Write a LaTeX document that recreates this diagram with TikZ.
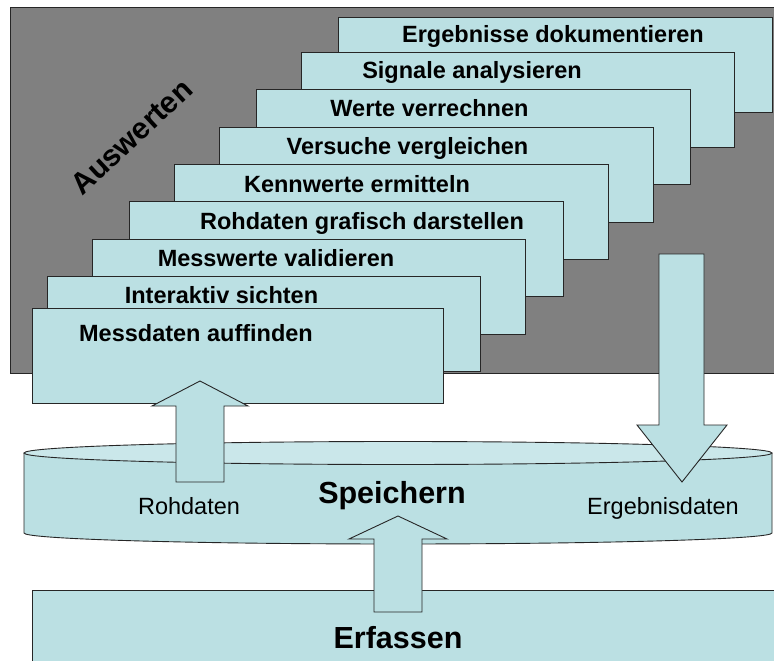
\documentclass[tikz,border=0pt]{standalone}
\usepackage{fontspec}
\setmainfont{Liberation Sans}
\definecolor{boxcyan}{HTML}{BBE0E3}
\definecolor{topcyan}{HTML}{CAE7EA}
\definecolor{greybg}{HTML}{808080}
\begin{document}
\begin{tikzpicture}[x=1pt,y=-1pt,
  outline/.style={draw=black!85, line width=0.9pt},
  stepbox/.style={outline, fill=boxcyan, anchor=north west, inner sep=0pt, minimum height=95pt},
  steptext/.style={font=\fontsize{23.5}{28}\selectfont\bfseries, anchor=base, inner sep=0pt},
  labeltext/.style={font=\fontsize{23.5}{28}\selectfont, anchor=base, inner sep=0pt},
  bigtext/.style={font=\fontsize{30.5}{36}\selectfont\bfseries, anchor=base, inner sep=0pt},
  blockarrow/.style={outline, fill=boxcyan, line join=miter}]
\useasboundingbox (0,0) rectangle (774,661);
\fill[white] (0,0) rectangle (774,661);
% grey background area
\node[outline, fill=greybg, anchor=north west, inner sep=0pt, minimum width=790pt, minimum height=366pt] (bg) at (9.5,7) {};
\node[font=\fontsize{30}{36}\selectfont\bfseries, rotate=43, inner sep=0pt] (ausw) at (131.5,137) {Auswerten};
% steps
\node[stepbox, minimum width=434pt] (b1) at (338,17) {};
\node[stepbox, minimum width=433pt] (b2) at (301,52) {};
\node[stepbox, minimum width=434pt] (b3) at (256,89) {};
\node[stepbox, minimum width=434pt] (b4) at (219,127) {};
\node[stepbox, minimum width=434pt] (b5) at (174,164) {};
\node[stepbox, minimum width=434pt] (b6) at (129,201) {};
\node[stepbox, minimum width=433pt] (b7) at (92,239) {};
\node[stepbox, minimum width=433pt] (b8) at (47,276) {};
\node[stepbox, minimum width=411pt] (b9) at (32,308) {};
\node[steptext] (t1) at (553,43) {Ergebnisse dokumentieren};
\node[steptext] (t2) at (472,79) {Signale analysieren};
\node[steptext] (t3) at (429.5,117) {Werte verrechnen};
\node[steptext] (t4) at (407.5,154) {Versuche vergleichen};
\node[steptext] (t5) at (357,192) {Kennwerte ermitteln};
\node[steptext] (t6) at (362,229) {Rohdaten grafisch darstellen};
\node[steptext] (t7) at (276,266) {Messwerte validieren};
\node[steptext] (t8) at (221.5,303) {Interaktiv sichten};
\node[steptext] (t9) at (196,341) {Messdaten auffinden};
% cylinder (Speichern)
\coordinate (cyltop) at (398,453);
\coordinate (cylbot) at (398,533);
\fill[boxcyan] (24,453) -- (24,533) arc[start angle=180, end angle=0, x radius=374, y radius=11]
  -- (772,453) arc[start angle=0, end angle=180, x radius=374, y radius=11.5] -- cycle;
\draw[outline] (24,453) -- (24,533) arc[start angle=180, end angle=0, x radius=374, y radius=11] -- (772,453);
\draw[outline, fill=topcyan] (cyltop) ellipse[x radius=374, y radius=11.5];
% Erfassen
\node[outline, fill=boxcyan, anchor=north west, inner sep=0pt, minimum width=760pt, minimum height=90pt] (erf) at (32,590) {};
% block arrows
\draw[blockarrow] (176,482) -- (176,406) -- (152,406) -- (200,381) -- (248,406) -- (224,406) -- (224,482) -- cycle;
\draw[blockarrow] (659,254) -- (704,254) -- (704,425) -- (727,425) -- (682,482) -- (637,425) -- (659,425) -- cycle;
\draw[blockarrow] (374,612) -- (374,539) -- (349,539) -- (398,516) -- (447,539) -- (422,539) -- (422,612) -- cycle;
% labels
\node[labeltext] (roh) at (189,514) {Rohdaten};
\node[labeltext] (erg) at (663,514) {Ergebnisdaten};
\node[bigtext] (spei) at (392,503) {Speichern};
\node[bigtext] (erft) at (398,648) {Erfassen};
\end{tikzpicture}
\end{document}
